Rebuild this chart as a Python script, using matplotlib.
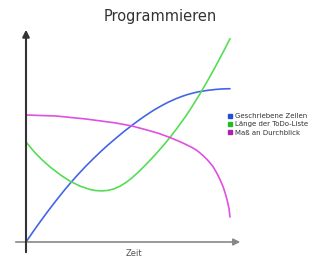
import matplotlib
matplotlib.use("Agg")
import matplotlib.pyplot as plt
from matplotlib.lines import Line2D

title = "Programmieren"
xlabel = "Zeit"
labels = ["Geschriebene Zeilen", "Länge der ToDo-Liste", "Maß an Durchblick"]

blue_x = [0, 8, 15, 22, 30, 37, 44, 52, 60, 67, 75, 82, 90, 98, 106, 113, 120,
          128, 135, 142, 150, 156, 161, 168, 174, 182, 190, 197, 204]
blue_y = [0, 11.6, 21.4, 30.9, 41.3, 50.1, 58.5, 67.5, 76, 83, 90.7, 97, 103.9,
          110.5, 116.7, 121.9, 126.8, 132, 136, 139.7, 143.3, 145.6, 147.3,
          149.2, 150.5, 151.7, 152.6, 153.1, 153.3]

green_x = [0, 8, 16, 25, 35, 44, 54, 64, 70, 76, 82, 88, 94, 100, 106, 112, 119,
           126, 132, 138, 144, 152, 160, 167, 174, 182, 189, 197, 204]
green_y = [100, 90.4, 82.2, 74.3, 66.7, 60.9, 55.9, 52.5, 51.4, 51.1, 51.6, 53.1,
           55.8, 59.5, 64.2, 69.6, 76.5, 83.8, 90.4, 97.3, 104.6, 115, 126.2,
           136.9, 148.2, 162, 174.6, 189.6, 203.3]

mag_x = [0, 30, 60, 90, 106, 121, 133, 144, 153, 160, 166, 171, 177, 182, 187,
         191, 194, 197, 199, 201, 203, 204]
mag_y = [127, 126, 123, 119, 116, 112, 108.5, 104.5, 100.7, 97.5, 94.5, 91.5,
         86.5, 81.5, 75.5, 68.5, 62.5, 55.5, 49.5, 42.5, 33.5, 25]

line_colors = ["#4466e6", "#55dd55", "#e050e0"]
legend_colors = ["#1f4fe0", "#22bb22", "#b020b0"]

W, H = 320, 269
fig = plt.figure(figsize=(W / 100, H / 100), dpi=100)
ax = fig.add_axes([26 / W, (H - 242) / H, 204 / W, 214 / H])
ax.set_xlim(0, 204)
ax.set_ylim(0, 214)
ax.axis("off")

for xs, ys, c in [(blue_x, blue_y, line_colors[0]),
                  (green_x, green_y, line_colors[1]),
                  (mag_x, mag_y, line_colors[2])]:
    ax.plot(xs, ys, color=c, lw=1.2, solid_capstyle="round",
            solid_joinstyle="round", clip_on=False)

# axes with arrows
fig.add_artist(matplotlib.patches.FancyArrowPatch(
    (13, H - 242), (243, H - 242), transform=None,
    arrowstyle="-|>,head_length=4,head_width=2", color="#888888", lw=1.2,
    mutation_scale=1))
fig.add_artist(matplotlib.patches.FancyArrowPatch(
    (26, H - 255), (26, H - 27), transform=None,
    arrowstyle="-|>,head_length=4,head_width=2", color="#333333", lw=1.5,
    mutation_scale=1))

fig.text(160 / W, 1 - 16 / H, title, ha="center", va="center",
         fontsize=10.5, color="#333333")
fig.text(134 / W, 1 - 254 / H, xlabel, ha="center", va="center",
         fontsize=6, color="#555555")

handles = [Line2D([], [], marker="s", linestyle="", color=c, markersize=3.2)
           for c in legend_colors]
fig.legend(handles, labels, loc="upper left",
           bbox_to_anchor=(227 / W, 1 - 113 / H), frameon=False,
           fontsize=5, handlelength=0.8, handletextpad=0.3,
           labelspacing=0.35, borderpad=0, borderaxespad=0,
           labelcolor="#333333")

fig.savefig("out.png", dpi=100)
